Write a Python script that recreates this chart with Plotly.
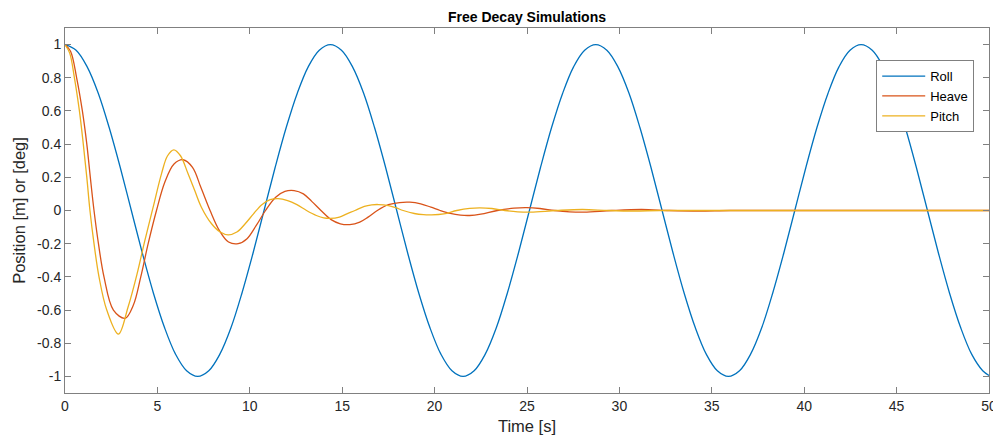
import plotly.graph_objects as go

# ---- data ----
roll_t = [0, 0.6, 1.2, 1.8, 2.39, 2.99, 3.59, 4.19, 4.79, 5.39, 5.98, 6.58,
          7.18, 7.78, 8.38, 8.98, 9.57, 10.17, 10.77, 11.37, 11.97, 12.57, 13.16, 13.76,
          14.36, 14.96, 15.56, 16.16, 16.75, 17.35, 17.95, 18.55, 19.15, 19.75, 20.34, 20.94,
          21.54, 22.14, 22.74, 23.34, 23.93, 24.53, 25.13, 25.73, 26.33, 26.93, 27.52, 28.12,
          28.72, 29.32, 29.92, 30.52, 31.11, 31.71, 32.31, 32.91, 33.51, 34.11, 34.7, 35.3,
          35.9, 36.5, 37.1, 37.7, 38.29, 38.89, 39.49, 40.09, 40.69, 41.29, 41.88, 42.48,
          43.08, 43.68, 44.28, 44.88, 45.47, 46.07, 46.67, 47.27, 47.87, 48.47, 49.06, 49.66,
          50]
roll_y = [1, 0.966, 0.866, 0.707, 0.5, 0.259, 0, -0.259, -0.5, -0.707, -0.866, -0.966,
          -1, -0.966, -0.866, -0.707, -0.5, -0.259, 0, 0.259, 0.5, 0.707, 0.866, 0.966,
          1, 0.966, 0.866, 0.707, 0.5, 0.259, 0, -0.259, -0.5, -0.707, -0.866, -0.966,
          -1, -0.966, -0.866, -0.707, -0.5, -0.259, 0, 0.259, 0.5, 0.707, 0.866, 0.966,
          1, 0.966, 0.866, 0.707, 0.5, 0.259, 0, -0.259, -0.5, -0.707, -0.866, -0.966,
          -1, -0.966, -0.866, -0.707, -0.5, -0.259, 0, 0.259, 0.5, 0.707, 0.866, 0.966,
          1, 0.966, 0.866, 0.707, 0.5, 0.259, 0, -0.259, -0.5, -0.707, -0.866, -0.966,
          -0.994]

heave_t = [0, 0.3, 0.63, 0.94, 1.18, 1.37, 1.57, 1.81, 2.11, 2.62, 3.25,
           3.7, 4.1, 4.5, 4.95, 5.4, 5.9, 6.39,
           6.9, 7.35, 7.85, 8.35, 8.85, 9.37,
           9.85, 10.35, 10.85, 11.4, 11.9, 12.4,
           12.9, 13.35, 13.85, 14.4, 14.9, 15.41,
           15.95, 16.4, 16.9, 17.5, 18.1, 18.66,
           19.25, 19.8, 20.3, 20.85, 21.4, 21.9,
           22.5, 23.4, 24.3, 24.98, 25.7, 26.5, 27.3, 28.1,
           29.6, 31.2, 32.7, 34.3, 36, 40, 45, 50]
heave_y = [1, 0.96, 0.8, 0.6, 0.4, 0.2, 0, -0.2, -0.4, -0.6, -0.65,
           -0.57, -0.4, -0.2, 0, 0.17, 0.28, 0.306,
           0.26, 0.14, 0, -0.12, -0.19, -0.2,
           -0.17, -0.09, 0, 0.08, 0.115, 0.12,
           0.1, 0.055, 0, -0.055, -0.08, -0.085,
           -0.07, -0.04, 0, 0.035, 0.048, 0.05,
           0.04, 0.02, 0, -0.018, -0.028, -0.03,
           -0.022, 0, 0.014, 0.017, 0.012, 0, -0.008, -0.01,
           0, 0.006, 0, -0.003, 0, 0, 0, 0]

pitch_t = [0, 0.25, 0.51, 0.78, 0.99, 1.18, 1.35, 1.57, 1.84, 2.26, 2.89,
           3.41, 3.9, 4.32, 4.77, 5.22, 5.55, 5.89,
           6.25, 6.66, 7.02, 7.38, 7.93, 8.4, 8.83,
           9.3, 9.75, 10.2, 10.65, 11.1, 11.53,
           12.05, 12.55, 13.07, 13.6, 14.0, 14.33,
           14.85, 15.25, 15.69, 16.2, 16.6, 16.95,
           17.5, 17.9, 18.3, 18.9, 19.4, 19.84,
           20.5, 21.2, 21.9, 22.45, 23.1, 23.8, 24.5, 25.2,
           26.6, 28.0, 29.4, 30.8, 32.2, 35, 40, 45, 50]
pitch_y = [1, 0.95, 0.8, 0.6, 0.4, 0.2, 0, -0.2, -0.4, -0.6, -0.745,
           -0.583, -0.382, -0.181, 0.02, 0.221, 0.33, 0.366,
           0.33, 0.221, 0.12, 0.02, -0.08, -0.13, -0.147,
           -0.13, -0.08, -0.02, 0.035, 0.065, 0.072,
           0.06, 0.035, 0, -0.03, -0.045, -0.048,
           -0.04, -0.02, 0, 0.025, 0.034, 0.036,
           0.03, 0.017, 0, -0.018, -0.025, -0.026,
           -0.02, 0, 0.013, 0.016, 0.012, 0, -0.008, -0.01,
           0, 0.006, 0, -0.003, 0, 0, 0, 0, 0]

x_ticks = [0, 5, 10, 15, 20, 25, 30, 35, 40, 45, 50]
x_labels = ["0", "5", "10", "15", "20", "25", "30", "35", "40", "45", "50"]
y_ticks = [-1, -0.8, -0.6, -0.4, -0.2, 0, 0.2, 0.4, 0.6, 0.8, 1]
y_labels = ["-1", "-0.8", "-0.6", "-0.4", "-0.2", "0", "0.2", "0.4", "0.6", "0.8", "1"]

FONT = "Liberation Sans, Arial, Helvetica, sans-serif"
AX = "#262626"

fig = go.Figure()
for name, t, y, c in [("Roll", roll_t, roll_y, "#0072BD"),
                      ("Heave", heave_t, heave_y, "#D95319"),
                      ("Pitch", pitch_t, pitch_y, "#EDB120")]:
    fig.add_trace(go.Scatter(x=t, y=y, mode="lines", name=name,
                             line=dict(color=c, width=1.3, shape="spline", smoothing=1)))

axis_common = dict(showgrid=False, zeroline=False, showline=True, linecolor="#808080",
                   linewidth=1, mirror="ticks", ticks="inside", ticklen=6,
                   tickcolor="#808080", tickfont=dict(family=FONT, size=14, color=AX),
                   ticklabeloverflow="allow", automargin=False)

fig.update_xaxes(range=[0, 50], tickvals=x_ticks, ticktext=x_labels,
                 title=dict(text="Time [s]", font=dict(family=FONT, size=16.5, color=AX), standoff=7),
                 **axis_common)
fig.update_yaxes(range=[-1.1, 1.1], tickvals=y_ticks, ticktext=y_labels,
                 title=dict(text="Position [m] or [deg]", font=dict(family=FONT, size=16.5, color=AX), standoff=7),
                 **axis_common)

fig.update_layout(
    width=993, height=441,
    margin=dict(l=65, r=4, t=28, b=48),
    paper_bgcolor="white", plot_bgcolor="white",
    title=dict(text="<b>Free Decay Simulations</b>", x=0.5, xref="paper", xanchor="center",
               y=0.962, yanchor="middle", font=dict(family=FONT, size=14, color="black")),
    legend=dict(x=0.984, y=0.912, xanchor="right", yanchor="top", bgcolor="white",
                bordercolor="#808080", borderwidth=1, font=dict(family=FONT, size=13, color="black"),
                tracegroupgap=0, itemwidth=43),
    showlegend=True,
)

fig.write_html("out.html")
